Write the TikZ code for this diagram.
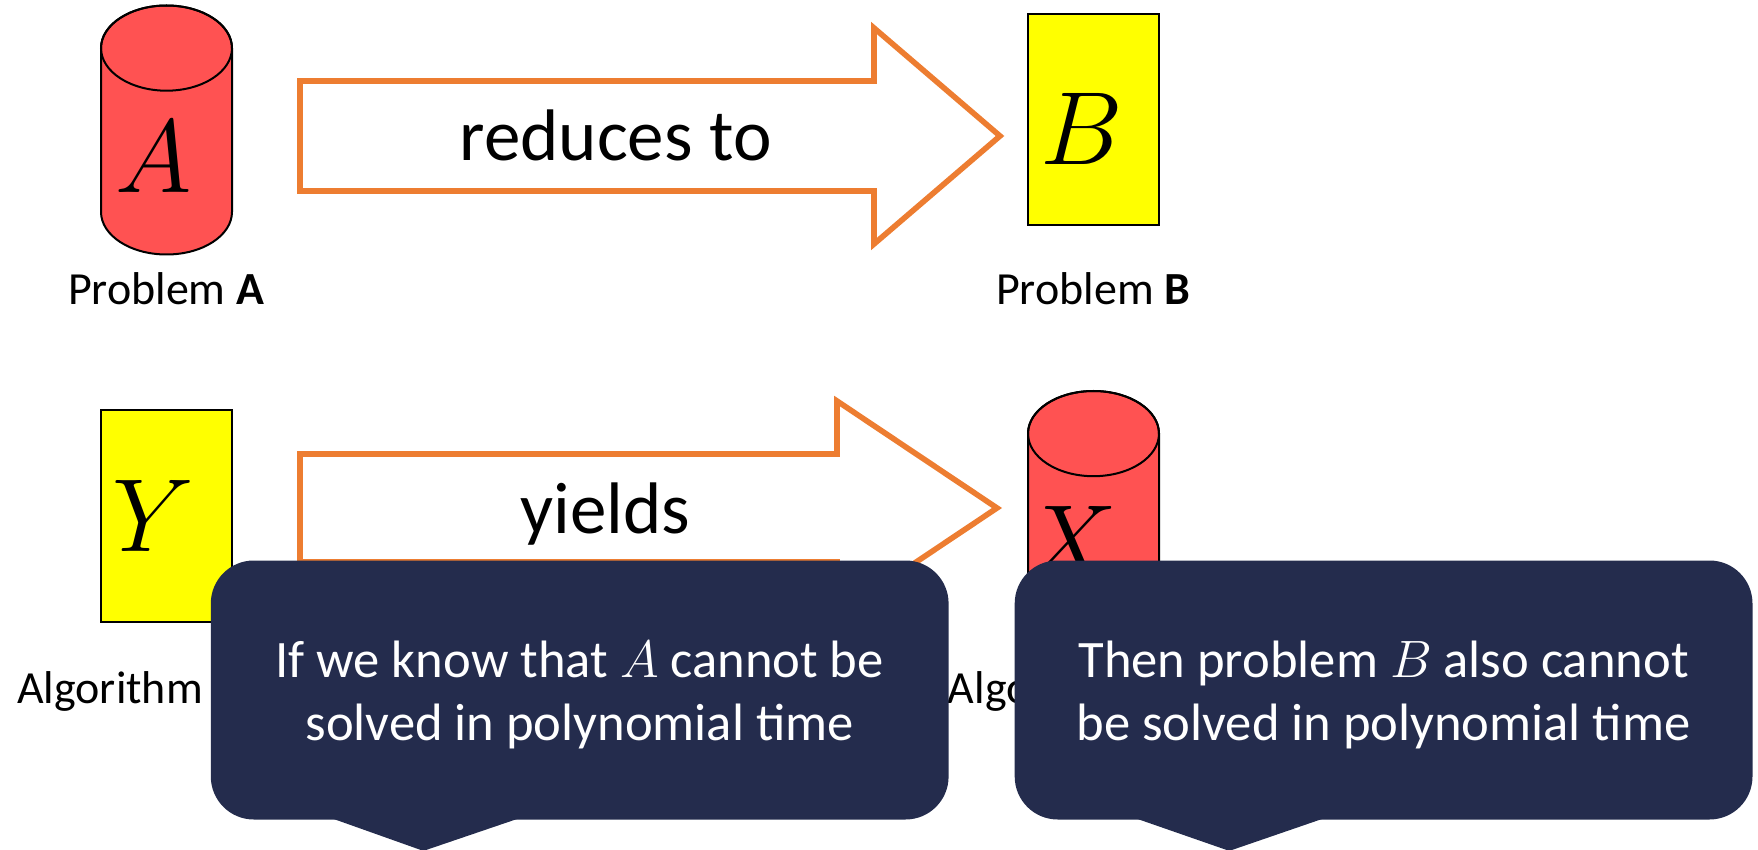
\RequirePackage{fix-cm}
\documentclass[tikz,border=0pt]{standalone}
\usepackage{fontspec}
\setmainfont{Carlito}
\usetikzlibrary{shapes.geometric, positioning, calc}
\definecolor{probred}{RGB}{255, 82, 82}
\definecolor{algyellow}{RGB}{255, 255, 0}
\definecolor{redorange}{RGB}{237, 125, 49}
\definecolor{tipnavy}{RGB}{36, 44, 77}

% upright cylinder, #1 name, (#2,#3) centre
\newcommand{\probcyl}[3]{%
  \filldraw[fill=probred, draw=black, line width=1pt]
    (#2-65.5, #3-81.9) -- (#2-65.5, #3+81.9)
    arc[start angle=180, end angle=0, x radius=65.5, y radius=42.6]
    -- (#2+65.5, #3-81.9)
    arc[start angle=0, end angle=-180, x radius=65.5, y radius=42.6] -- cycle;
  \draw[line width=1pt] (#2, #3-81.9) ellipse [x radius=65.5, y radius=42.6];
  \coordinate (#1) at (#2, #3);
}

\begin{document}
\begin{tikzpicture}[
  x=0.5pt, y=-0.5pt,
  rbox/.style={draw, line width=1pt, fill=algyellow, minimum width=65.5pt, minimum height=105.5pt, inner sep=0pt},
  bigletter/.style={font=\fontsize{52}{56}\selectfont, inner sep=0pt},
  caption/.style={font=\fontsize{23}{27}\selectfont, inner sep=0pt},
  barrow/.style={draw=redorange, line width=2.8pt, fill=white, miter limit=10},
  arrowtext/.style={font=\fontsize{36.5}{40}\selectfont, anchor=base, inner sep=0pt},
  tipbox/.style={fill=tipnavy, rounded corners=21.5pt, minimum width=368.9pt, minimum height=129.5pt, inner sep=0pt},
  tiptext/.style={text=white, align=center, font=\fontsize{26.3}{31.7}\selectfont, inner sep=0pt}
]
  \useasboundingbox (0,0) rectangle (1758,850);

  % top row
  \probcyl{cylA}{166.5}{130}
  \node[bigletter] (letA) at (153.6, 157) {$A$};
  \node[caption, anchor=base] (capA) at (166, 305) {Problem \textbf{A}};

  \draw[barrow] (300,81) -- (874,81) -- (874,28) -- (1000,136) -- (874,244) -- (874,191) -- (300,191) -- cycle;
  \node[arrowtext] (reduce) at (615.5, 161) {reduces to};

  \node[rbox] (recB) at (1093.5, 120) {};
  \node[bigletter] (letB) at (1082, 129) {$B$};
  \node[caption, anchor=base] (capB) at (1093, 305) {Problem \textbf{B}};

  % bottom row
  \node[rbox] (recY) at (166.5, 516) {};
  \node[bigletter] (letY) at (153.6, 516) {$Y$};
  \node[caption, anchor=base west] (capY) at (16.8, 703) {Algorithm \textbf{Y}};

  \draw[barrow] (300,454) -- (837,454) -- (837,401) -- (997,508) -- (837,615) -- (837,562) -- (300,562) -- cycle;
  \node[arrowtext] (yield) at (605.5, 533) {yields};

  \probcyl{cylX}{1093.5}{515.5}
  \node[bigletter] (letX) at (1070.7, 542) {$X$};
  \node[caption, anchor=base west] (capX) at (947.5, 703) {Algorithm \textbf{X}};

  % callouts
  \node[tipbox] (tipL) at (579.7, 690) {};
  \fill[tipnavy] ($(tipL.south west)+(123,-1)$) -- ($(tipL.south west)+(213,31)$) -- ($(tipL.south west)+(307,-1)$) -- cycle;
  \node[tiptext] (tipLtext) at ($(tipL)+(0,5)$) {If we know that $A$ cannot be\\solved in polynomial time};

  \node[tipbox] (tipR) at (1383.6, 690) {};
  \fill[tipnavy] ($(tipR.south west)+(123,-1)$) -- ($(tipR.south west)+(215,31)$) -- ($(tipR.south west)+(308,-1)$) -- cycle;
  \node[tiptext] (tipRtext) at ($(tipR)+(0,5)$) {Then problem $B$ also cannot\\be solved in polynomial time};
\end{tikzpicture}
\end{document}
